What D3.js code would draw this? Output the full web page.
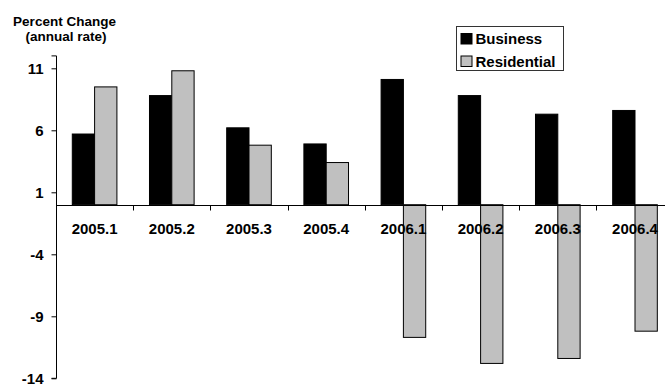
<!DOCTYPE html>
<html><head><meta charset="utf-8">
<script src="https://cdn.jsdelivr.net/npm/d3@7"></script>
<style>
html,body{margin:0;padding:0;background:#fff;}
svg{display:block;font-family:"Liberation Sans",Arial,sans-serif;font-weight:bold;}
</style></head>
<body><svg id="c" width="665" height="385"></svg>
<script>
const categories = ["2005.1","2005.2","2005.3","2005.4","2006.1","2006.2","2006.3","2006.4"];
const seriesNames = ["Business","Residential"];
const business = [5.7, 8.8, 6.2, 4.9, 10.1, 8.8, 7.3, 7.6];
const residential = [9.5, 10.8, 4.8, 3.4, -10.7, -12.8, -12.4, -10.2];
const yTicks = [11, 6, 1, -4, -9, -14];
const colors = {Business:"#000000", Residential:"#c0c0c0"};

const svg = d3.select("#c");
const x0 = d3.scaleBand().domain(categories).range([56, 673.6]).padding(0);
const x1 = d3.scaleBand().domain(seriesNames).range([0, x0.bandwidth()]).paddingInner(0).paddingOuter(0.73);
const y = d3.scaleLinear().domain([-14, 12]).range([378.3, 55.9]);

const data = categories.map((c,i)=>({cat:c, vals:[{s:"Business",v:business[i]},{s:"Residential",v:residential[i]}]}));

// bars
const g = svg.append("g");
g.selectAll("g.cat").data(data).join("g").attr("class","cat")
  .attr("transform", d=>`translate(${x0(d.cat)},0)`)
  .selectAll("rect").data(d=>d.vals).join("rect")
  .attr("x", d=>x1(d.s))
  .attr("width", x1.bandwidth())
  .attr("y", d=>y(Math.max(0,d.v)))
  .attr("height", d=>Math.abs(y(d.v)-y(0)))
  .attr("fill", d=>colors[d.s])
  .attr("stroke", "#000").attr("stroke-width", 1);

// y axis
const yAxis = d3.axisLeft(y).tickValues(yTicks).tickSize(5).tickPadding(8).tickFormat(d=>String(d));
const ya = svg.append("g").attr("transform","translate(56.5,0)").call(yAxis);
ya.select(".domain").attr("stroke","#000");
ya.selectAll(".tick line").attr("stroke","#000");
ya.selectAll(".tick text").attr("font-size",15).attr("font-weight","bold")
  .attr("font-family","Liberation Sans, Arial, sans-serif").attr("fill","#000");
ya.select(".domain").attr("d", `M-5,${y(12)}H0V${y(-14)}H-5`);

// x axis at zero
const xa = svg.append("g").attr("transform",`translate(0,${Math.round(y(0))+0.5})`);
xa.append("line").attr("x1",56).attr("x2",673.6).attr("stroke","#000");
xa.selectAll("line.t").data(categories.slice(1)).join("line").attr("class","t")
  .attr("x1",d=>Math.round(x0(d))+0.5).attr("x2",d=>Math.round(x0(d))+0.5)
  .attr("y1",0).attr("y2",5).attr("stroke","#000");
svg.append("g").selectAll("text").data(categories).join("text")
  .attr("x", d=>x0(d)+x0.bandwidth()/2).attr("y", 234)
  .attr("text-anchor","middle").attr("font-size",15).attr("fill","#000")
  .text(d=>d);

// title
svg.append("text").attr("x",64.5).attr("y",25.5).attr("text-anchor","middle").attr("font-size",13.5).text("Percent Change");
svg.append("text").attr("x",66).attr("y",40.5).attr("text-anchor","middle").attr("font-size",13.5).text("(annual rate)");

// legend
const lg = svg.append("g");
lg.append("rect").attr("x",456.5).attr("y",26.5).attr("width",107).attr("height",44)
  .attr("fill","#fff").attr("stroke","#333").attr("stroke-width",1);
seriesNames.forEach((s,i)=>{
  const yy = 33.5 + i*22.5;
  lg.append("rect").attr("x",461).attr("y",yy).attr("width",11).attr("height",10.5)
    .attr("fill",colors[s]).attr("stroke","#000").attr("stroke-width",1);
  lg.append("text").attr("x",475.5).attr("y",yy+10.8).attr("font-size",15).text(s);
});
</script></body></html>
